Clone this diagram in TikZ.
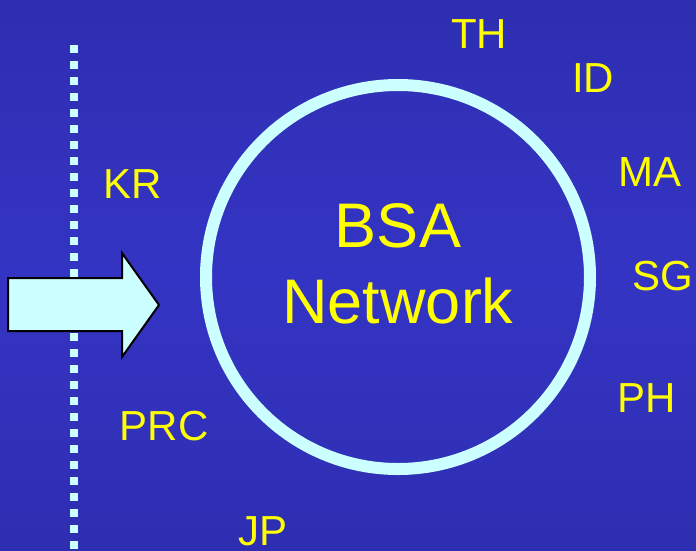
\documentclass[tikz,border=0pt]{standalone}
\usepackage{fontspec}
\setmainfont{Liberation Sans}
\definecolor{bgtop}{RGB}{46,46,178}
\definecolor{bgmid}{RGB}{52,52,196}
\definecolor{ringcol}{RGB}{204,255,255}
\definecolor{labelcol}{RGB}{255,255,0}
\tikzset{
  country/.style={text=labelcol, anchor=base, inner sep=0pt,
    font=\fontsize{42}{50}\selectfont},
  title/.style={text=labelcol, anchor=base, inner sep=0pt,
    font=\fontsize{63}{76}\selectfont},
  ring/.style={draw=ringcol, line width=12pt},
  border/.style={draw=ringcol, line width=8pt, dash pattern=on 8pt off 8pt},
  pointer/.style={fill=ringcol, draw=black, line width=2pt, line join=miter}
}
\begin{document}
\begin{tikzpicture}[x=1pt,y=-1pt]
  % background
  \fill[top color=bgtop, bottom color=bgtop, middle color=bgmid] (0,0) rectangle (696,550);
  \useasboundingbox (0,0) rectangle (696,550);

  % dotted boundary line
  \coordinate (lineTop) at (74,45);
  \coordinate (lineBot) at (74,556);
  \draw[border] (lineTop) -- (lineBot);

  % entry arrow
  \path[pointer] (8,278) -- (122,278) -- (122,253) -- (159,305)
    -- (122,357) -- (122,331) -- (8,331) -- cycle;

  % network ring
  \coordinate (hub) at (398,277);
  \draw[ring] (hub) circle[radius=192];

  % title
  \node[title] (bsa) at (398,247) {BSA};
  \node[title] (net) at (398,323) {Network};

  % member countries
  \node[country] (th)  at (479,48)  {TH};
  \node[country] (id)  at (593,92)  {ID};
  \node[country] (ma)  at (650,186) {MA};
  \node[country] (sg)  at (663,290) {SG};
  \node[country] (ph)  at (647,412) {PH};
  \node[country] (kr)  at (133,198) {KR};
  \node[country] (prc) at (164,440) {PRC};
  \node[country] (jp)  at (263,545) {JP};
\end{tikzpicture}
\end{document}
